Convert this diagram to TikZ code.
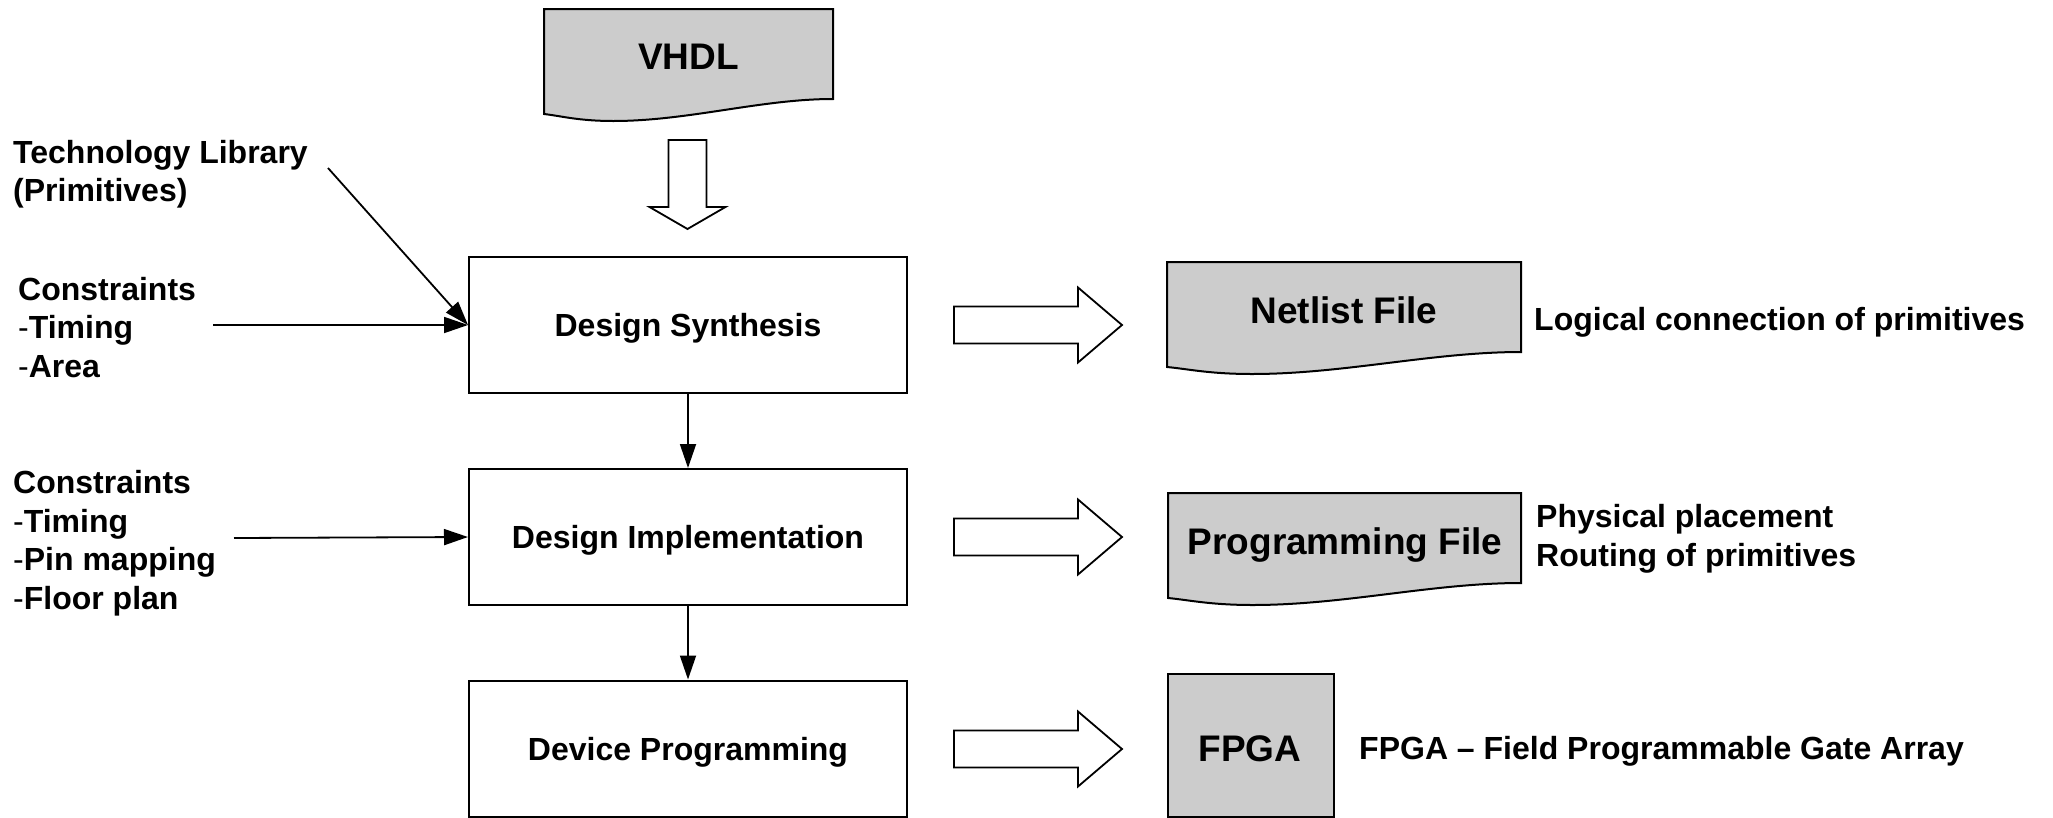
\documentclass[tikz,border=0pt]{standalone}
\usepackage{fontspec}
\setmainfont{Liberation Sans}
\usetikzlibrary{arrows.meta}
\definecolor{docgray}{HTML}{CCCCCC}

% Document symbol with a wavy lower edge: #1 = left x, #2 = top y, #3 = width
\newcommand\docshape[3]{%
  \draw[docline] (#1,#2) -- ({#1+#3},#2) -- ({#1+#3},{#2+90})
    .. controls ({#1+0.75*#3},{#2+90}) and ({#1+0.5*#3},{#2+112}) .. ({#1+0.24*#3},{#2+112})
    .. controls ({#1+0.12*#3},{#2+112}) and ({#1+0.06*#3},{#2+107}) .. (#1,{#2+105}) -- cycle;}

% Outlined block arrow pointing right: #1 = tail x, #2 = axis y
\newcommand\hollowright[2]{%
  \draw[hollow] (#1,{#2-18.5}) -- ({#1+124},{#2-18.5}) -- ({#1+124},{#2-37.5})
    -- ({#1+168},#2) -- ({#1+124},{#2+37.5}) -- ({#1+124},{#2+18.5})
    -- (#1,{#2+18.5}) -- cycle;}

\begin{document}
\begin{tikzpicture}[x=1pt, y=-1pt,
  stage/.style={draw, line width=2pt, minimum width=438pt, minimum height=136pt,
    inner sep=0pt, font=\fontsize{32}{38}\selectfont\bfseries,
    text height=23pt, text depth=0pt},
  docline/.style={draw, fill=docgray, line width=2pt},
  doctext/.style={font=\fontsize{37}{44}\selectfont\bfseries, inner sep=0pt,
    text height=26.5pt, text depth=0pt},
  hollow/.style={draw, fill=white, line width=1.8pt, line join=miter},
  note/.style={font=\fontsize{32}{38.5}\selectfont\bfseries, align=left,
    inner sep=0pt, anchor=north west},
  link/.style={line width=1.8pt, -{Triangle[length=24pt,width=16pt]}}
]
\useasboundingbox (0,0) rectangle (2053,817);

% source file
\docshape{544}{9}{289}
\node[doctext] (vhdl) at (688.5,56.5) {VHDL};
\draw[hollow] (668.5,140) -- (706.5,140) -- (706.5,207) -- (725.5,207)
  -- (687.5,229) -- (649.5,207) -- (668.5,207) -- cycle;

% flow stages
\node[stage] (syn)  at (688,325)   {Design Synthesis};
\node[stage] (impl) at (688,537)   {Design Implementation};
\node[stage] (prog) at (688,748.5) {Device Programming};

\draw[link] (syn) -- (impl);
\draw[link] (impl) -- (prog);

% inputs on the left
\node[note] (techlib) at (13,138) {\rule{0pt}{25pt}Technology Library\\(Primitives)};
\node[note] (cons1) at (18,275) {\rule{0pt}{25pt}Constraints\\{\mdseries-}Timing\\{\mdseries-}Area};
\node[note] (cons2) at (13,468.5) {\rule{0pt}{25pt}Constraints\\{\mdseries-}Timing\\{\mdseries-}Pin mapping\\{\mdseries-}Floor plan};

\coordinate (techsrc) at (328,168);
\coordinate (cons1src) at (213,325);
\coordinate (cons2src) at (234,538);
\draw[link] (techsrc) -- (syn.west);
\draw[link] (cons1src) -- (syn.west);
\draw[link] (cons2src) -- (impl.west);

% outputs on the right
\hollowright{954}{325}
\hollowright{954}{537}
\hollowright{954}{749}

\docshape{1167}{262}{354}
\node[doctext] (netlist) at (1344,310) {Netlist File};
\docshape{1168}{493}{353}
\node[doctext] (progfile) at (1345,541) {Programming File};
\node[draw, fill=docgray, line width=2pt, minimum width=166pt, minimum height=143pt,
  inner sep=0pt] (fpgabox) at (1251,745.5) {};
\node[doctext] (fpga) at (1250,748) {FPGA};

\node[note] (netnote) at (1534,305) {\rule{0pt}{25pt}Logical connection of primitives};
\node[note] (prognote) at (1536,502.5) {\rule{0pt}{25pt}Physical placement\\Routing of primitives};
\node[note] (fpganote) at (1359,734.5) {\rule{0pt}{25pt}FPGA – Field Programmable Gate Array};
\end{tikzpicture}
\end{document}
